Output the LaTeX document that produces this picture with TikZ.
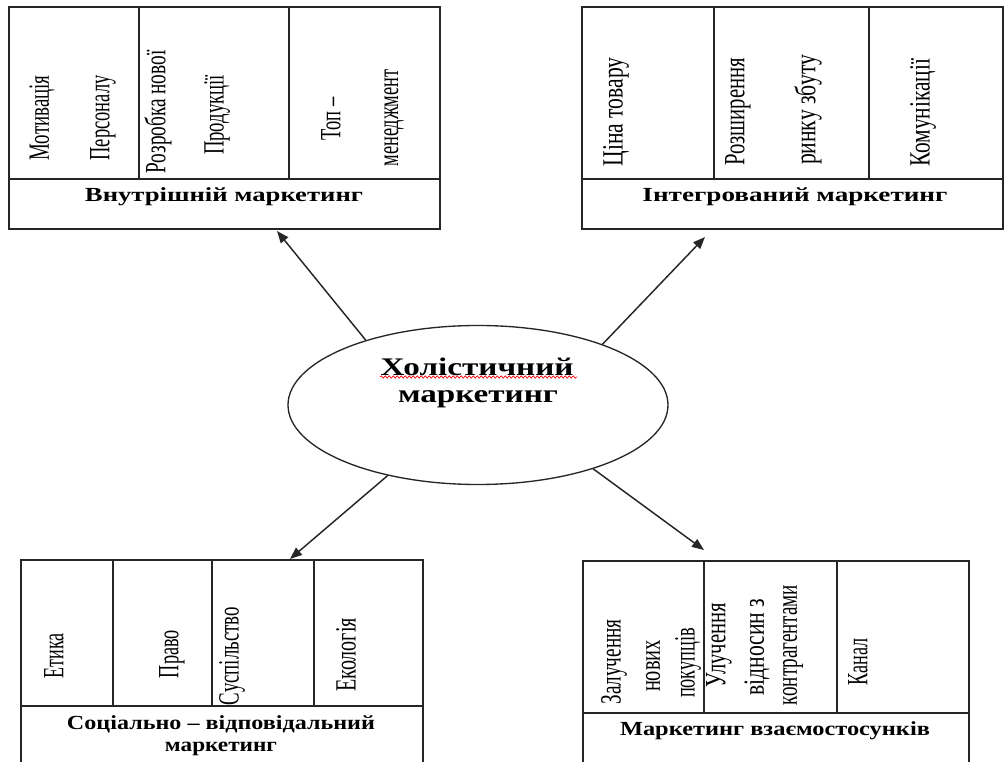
\documentclass[tikz,border=0pt]{standalone}
\usepackage{fontspec}
\setmainfont{Liberation Serif}
\usetikzlibrary{arrows.meta,shapes.geometric,decorations.pathmorphing}
\newlength\upx \setlength\upx{0.75pt}
\newcommand\fitw[2]{\resizebox{#1\upx}{\height}{#2}}
\tikzset{
  frame/.style={draw=black!85, line width=1.2pt},
  divider/.style={draw=black!85, line width=1.1pt},
  vt/.style={rotate=90, inner sep=0pt, font=\fontsize{22}{22}\selectfont},
  lab/.style={inner sep=0pt, font=\fontsize{15}{15}\selectfont\bfseries},
  holtext/.style={inner sep=0pt, font=\fontsize{19}{19}\selectfont\bfseries},
  arr/.style={draw=black!85, line width=1.1pt, -{Triangle[length=9pt,width=7pt]}},
  spell/.style={draw=red, line width=0.5pt, decorate, decoration={snake, amplitude=0.9pt, segment length=3pt}}
}
\begin{document}
\begin{tikzpicture}[x=0.75pt, y=-0.75pt]
\clip (0,0) rectangle (1004,762);
\fill[white] (0,0) rectangle (1004,762);

% ---------- Top-left box: internal marketing ----------
\draw[frame] (9,7) rectangle (440,229);
\draw[divider] (9,179) -- (440,179);
\draw[divider] (139,7) -- (139,179);
\draw[divider] (289,7) -- (289,179);
\node[vt] (tl1) at (42,118) {\fitw{85}{Мотивація}};
\node[vt] (tl2) at (103,118) {\fitw{85}{Персоналу}};
\node[vt] (tl3) at (158,112) {\fitw{123}{Розробка нової}};
\node[vt] (tl4) at (217,115) {\fitw{80}{Продукції}};
\node[vt] (tl5) at (331,119) {\fitw{43}{Топ –}};
\node[vt] (tl6) at (394,118) {\fitw{97}{менеджмент}};
\node[lab] (tlL) at (224,197) {\fitw{278}{Внутрішній маркетинг}};

% ---------- Top-right box: integrated marketing ----------
\draw[frame] (582,7) rectangle (1003,229);
\draw[divider] (582,179) -- (1003,179);
\draw[divider] (714,7) -- (714,179);
\draw[divider] (869,7) -- (869,179);
\node[vt] (tr1) at (616,112) {\fitw{109}{Ціна товару}};
\node[vt] (tr2) at (738,112) {\fitw{108}{Розширення}};
\node[vt] (tr3) at (808,110) {\fitw{110}{ринку збуту}};
\node[vt] (tr4) at (923,113) {\fitw{108}{Комунікації}};
\node[lab] (trL) at (795,197) {\fitw{305}{Інтегрований маркетинг}};

% ---------- Bottom-left box: socially responsible marketing ----------
\draw[frame] (21,560) rectangle (423,790);
\draw[divider] (21,706) -- (423,706);
\draw[divider] (113,560) -- (113,706);
\draw[divider] (212,560) -- (212,706);
\draw[divider] (314,560) -- (314,706);
\node[vt] (bl1) at (54,656) {\fitw{45}{Етика}};
\node[vt] (bl2) at (172,654) {\fitw{48}{Право}};
\node[vt] (bl3) at (232,656) {\fitw{98}{Суспільство}};
\node[vt] (bl4) at (346,655) {\fitw{74}{Екологія}};
\node[lab] (blL1) at (221,724) {\fitw{308}{Соціально – відповідальний}};
\node[lab] (blL2) at (221,749) {\fitw{112}{маркетинг}};

% ---------- Bottom-right box: relationship marketing ----------
\draw[frame] (583,561) rectangle (969,790);
\draw[divider] (583,713) -- (969,713);
\draw[divider] (704,561) -- (704,713);
\draw[divider] (837,561) -- (837,713);
\node[vt] (br1) at (614,662) {\fitw{85}{Залучення}};
\node[vt] (br2) at (653,666) {\fitw{52}{нових}};
\node[vt] (br3) at (688,663) {\fitw{70}{покупців}};
\node[vt] (br4) at (719,645) {\fitw{84}{Улучення}};
\node[vt] (br5) at (757,647) {\fitw{97}{відносин з}};
\node[vt] (br6) at (793,645) {\fitw{120}{контрагентами}};
\node[vt] (br7) at (858,662) {\fitw{47}{Канал}};
\node[lab] (brL) at (775,731) {\fitw{310}{Маркетинг взаємостосунків}};

% ---------- Centre ellipse ----------
\node[draw=black!85, line width=1pt, ellipse, inner sep=0pt,
      minimum width=380\upx, minimum height=159\upx] (hol) at (478,405) {};
\node[holtext] (h1) at (477,367) {\fitw{193}{Холістичний}};
\node[holtext] (h2) at (478,399) {\fitw{160}{маркетинг}};
\coordinate (sp1) at (380,377);
\coordinate (sp2) at (577,377);
\draw[spell] (sp1) -- (sp2);

% ---------- Arrows ----------
\coordinate (aTL) at (277,231);
\coordinate (aTR) at (705,237);
\coordinate (aBL) at (290,559);
\coordinate (aBR) at (704,550);
\draw[arr] (hol.150) -- (aTL);
\draw[arr] (hol.26) -- (aTR);
\draw[arr] (hol.218) -- (aBL);
\draw[arr] (hol.331) -- (aBR);
\end{tikzpicture}
\end{document}
